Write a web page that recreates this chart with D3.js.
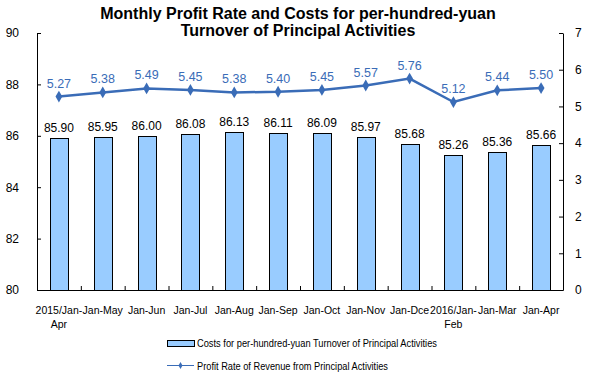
<!DOCTYPE html>
<html>
<head>
<meta charset="utf-8">
<script src="https://cdn.jsdelivr.net/npm/d3@7"></script>
<style>
  body { margin: 0; background: #fff; }
  text { font-family: "Liberation Sans", Arial, sans-serif; }
</style>
</head>
<body>
<div id="chart"></div>
<script>
// data
var categories = ["2015/Jan-Apr", "Jan-May", "Jan-Jun", "Jan-Jul", "Jan-Aug", "Jan-Sep",
                  "Jan-Oct", "Jan-Nov", "Jan-Dce", "2016/Jan-Feb", "Jan-Mar", "Jan-Apr"];
var costs = [85.90, 85.95, 86.00, 86.08, 86.13, 86.11, 86.09, 85.97, 85.68, 85.26, 85.36, 85.66];
var profitRate = [5.27, 5.38, 5.49, 5.45, 5.38, 5.40, 5.45, 5.57, 5.76, 5.12, 5.44, 5.50];
var leftTicks = [80, 82, 84, 86, 88, 90];
var rightTicks = [0, 1, 2, 3, 4, 5, 6, 7];

var W = 594, H = 379;
var margin = { top: 33, right: 31, bottom: 89, left: 37 },
    width = W - margin.left - margin.right,
    height = H - margin.top - margin.bottom;

var barColor = "#99ccff";
var lineColor = "#3a6cb7";

var svg = d3.select("#chart").append("svg")
    .attr("width", W)
    .attr("height", H);

// title
var title = svg.append("text")
    .attr("text-anchor", "middle")
    .style("font-size", "16px")
    .style("font-weight", "bold");
title.append("tspan").attr("x", 298).attr("y", 19).text("Monthly Profit Rate and Costs for per-hundred-yuan");
title.append("tspan").attr("x", 298).attr("y", 36).text("Turnover of Principal Activities");

var g = svg.append("g")
    .attr("transform", "translate(" + margin.left + "," + margin.top + ")");

var x = d3.scaleBand()
    .domain(categories)
    .range([0, width])
    .paddingInner(0.59)
    .paddingOuter(0.295);

var yLeft = d3.scaleLinear().domain([80, 90]).range([height, 0]);
var yRight = d3.scaleLinear().domain([0, 7]).range([height, 0]);

// bars
g.selectAll(".bar")
    .data(costs)
    .enter().append("rect")
    .attr("class", "bar")
    .attr("x", function (d, i) { return Math.round(x(categories[i])) + 0.5; })
    .attr("y", function (d) { return Math.round(yLeft(d)) + 0.5; })
    .attr("width", Math.round(x.bandwidth()))
    .attr("height", function (d) { return Math.round(height - yLeft(d)); })
    .attr("fill", barColor)
    .attr("stroke", "#000")
    .attr("stroke-width", 1);

// bar labels
g.selectAll(".barLabel")
    .data(costs)
    .enter().append("text")
    .attr("text-anchor", "middle")
    .attr("x", function (d, i) { return x(categories[i]) + x.bandwidth() / 2; })
    .attr("y", function (d) { return yLeft(d) - 6; })
    .style("font-size", "12px")
    .attr("fill", "#000")
    .text(function (d) { return d.toFixed(2); });

// left axis
var axL = g.append("g")
    .call(d3.axisLeft(yLeft).tickValues(leftTicks).tickSizeInner(-4).tickSizeOuter(0).tickPadding(18));
// right axis
var axR = g.append("g")
    .attr("transform", "translate(" + width + ",0)")
    .call(d3.axisRight(yRight).tickValues(rightTicks).tickFormat(d3.format("d"))
        .tickSizeInner(-4).tickSizeOuter(0).tickPadding(12));
[axL, axR].forEach(function (ax) {
    ax.select(".domain").attr("stroke", "#000");
    ax.selectAll("line").attr("stroke", "#000");
    ax.selectAll("text").style("font-size", "12px").attr("fill", "#000");
});

// bottom axis with ticks between categories
var xb = d3.scaleLinear().domain([0, categories.length]).range([0, width]);
var axB = g.append("g")
    .attr("transform", "translate(0," + height + ")")
    .call(d3.axisBottom(xb).tickValues(d3.range(0, categories.length + 1)).tickSizeInner(-4).tickSizeOuter(0).tickFormat(""));
axB.select(".domain").attr("stroke", "#000");
axB.selectAll("line").attr("stroke", "#000");

// category labels
g.selectAll(".catLabel")
    .data(categories)
    .enter().append("text")
    .attr("text-anchor", "middle")
    .style("font-size", "10.5px")
    .attr("fill", "#000")
    .each(function (d, i) {
        var cx = x(d) + x.bandwidth() / 2;
        var parts = d.indexOf("/") >= 0 ? [d.slice(0, d.lastIndexOf("-") + 1), d.slice(d.lastIndexOf("-") + 1)] : [d];
        var t = d3.select(this);
        parts.forEach(function (p, k) {
            t.append("tspan").attr("x", cx).attr("y", height + 24 + k * 14).text(p);
        });
    });

// line
var line = d3.line()
    .x(function (d, i) { return x(categories[i]) + x.bandwidth() / 2; })
    .y(function (d) { return yRight(d); });

g.append("path")
    .datum(profitRate)
    .attr("d", line)
    .attr("fill", "none")
    .attr("stroke", lineColor)
    .attr("stroke-width", 2.5);

g.selectAll(".pt")
    .data(profitRate)
    .enter().append("path")
    .attr("d", d3.symbol().type(d3.symbolDiamond).size(40))
    .attr("transform", function (d, i) {
        return "translate(" + (x(categories[i]) + x.bandwidth() / 2) + "," + yRight(d) + ")";
    })
    .attr("fill", lineColor);

g.selectAll(".ptLabel")
    .data(profitRate)
    .enter().append("text")
    .attr("text-anchor", "middle")
    .attr("x", function (d, i) { return x(categories[i]) + x.bandwidth() / 2; })
    .attr("y", function (d) { return yRight(d) - 9; })
    .style("font-size", "12.5px")
    .attr("fill", lineColor)
    .text(function (d) { return d.toFixed(2); });

// legend (text is narrow in the original)
var legend = svg.append("g").attr("transform", "translate(167,0)");
legend.append("rect")
    .attr("x", 0.5).attr("y", 340.5)
    .attr("width", 27).attr("height", 6)
    .attr("fill", barColor).attr("stroke", "#000");
legend.append("text")
    .attr("x", 30).attr("y", 347)
    .attr("textLength", 240)
    .attr("lengthAdjust", "spacingAndGlyphs")
    .style("font-size", "11px")
    .text("Costs for per-hundred-yuan Turnover of Principal Activities");
legend.append("line")
    .attr("x1", 0).attr("x2", 27).attr("y1", 365.5).attr("y2", 365.5)
    .attr("stroke", lineColor).attr("stroke-width", 1);
legend.append("path")
    .attr("d", d3.symbol().type(d3.symbolDiamond).size(14))
    .attr("transform", "translate(13.5,365.5)")
    .attr("fill", lineColor);
legend.append("text")
    .attr("x", 30).attr("y", 369.5)
    .attr("textLength", 191)
    .attr("lengthAdjust", "spacingAndGlyphs")
    .style("font-size", "11px")
    .text("Profit Rate of Revenue from Principal Activities");
</script>
</body>
</html>
